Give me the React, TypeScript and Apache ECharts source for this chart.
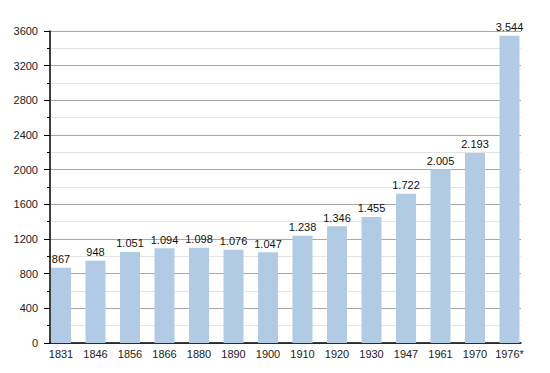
import React, { useEffect, useRef } from "react";
import * as echarts from "echarts";

const years = ["1831", "1846", "1856", "1866", "1880", "1890", "1900", "1910", "1920", "1930", "1947", "1961", "1970", "1976*"];
const population = [867, 948, 1051, 1094, 1098, 1076, 1047, 1238, 1346, 1455, 1722, 2005, 2193, 3544];
const yMin = 0;
const yMax = 3600;
const yStep = 400;

const fmt = (v: number) => {
  const s = String(v);
  return s.length > 3 ? s.slice(0, s.length - 3) + "." + s.slice(s.length - 3) : s;
};

export default function App() {
  const ref = useRef<HTMLDivElement>(null);
  useEffect(() => {
    if (!ref.current) return;
    const chart = echarts.init(ref.current, undefined, { renderer: "svg" });
    const font = "Liberation Sans, Arial, Helvetica, sans-serif";
    chart.setOption({
      animation: false,
      backgroundColor: "#ffffff",
      textStyle: { fontFamily: font },
      grid: [
        { left: 50, right: 29, top: 31, bottom: 30, containLabel: false },
        { left: 43.75, right: 23.25, top: 31, bottom: 30, containLabel: false },
      ],
      xAxis: [
        {
          gridIndex: 0,
          type: "value",
          min: 0,
          max: 1,
          axisLine: { show: true, onZero: false, lineStyle: { color: "#000", width: 1.5 } },
          axisTick: { show: false },
          axisLabel: { show: false },
          splitLine: { show: false },
        },
        {
          gridIndex: 1,
          type: "category",
          data: years,
          axisLine: { show: false },
          axisTick: { show: false },
          axisLabel: { color: "#222", fontSize: 11, margin: 5, interval: 0, fontFamily: font },
          splitLine: { show: false },
        },
      ],
      yAxis: [
        {
          gridIndex: 0,
          type: "value",
          min: yMin,
          max: yMax,
          interval: yStep,
          axisLine: { show: true, lineStyle: { color: "#000", width: 1.5 } },
          axisTick: { show: true, length: 6, lineStyle: { color: "#000" } },
          minorTick: { show: true, splitNumber: 2, length: 3, lineStyle: { color: "#000" } },
          axisLabel: { color: "#222", fontSize: 11, margin: 12, fontFamily: font, formatter: (v: number) => String(v) },
          splitLine: { show: true, lineStyle: { color: "#a8a8a8", width: 1 } },
          minorSplitLine: { show: true, lineStyle: { color: "#e4e4e4", width: 1 } },
        },
        {
          gridIndex: 1,
          type: "value",
          min: yMin,
          max: yMax,
          interval: yStep,
          show: false,
          splitLine: { show: false },
        },
      ],
      series: [
        {
          type: "bar",
          xAxisIndex: 1,
          yAxisIndex: 1,
          data: population,
          barWidth: 20,
          itemStyle: { color: "#b1cbe5" },
          label: {
            show: true,
            position: "top",
            distance: 3,
            color: "#111",
            fontSize: 11,
            fontFamily: font,
            formatter: (p: any) => fmt(p.value),
          },
        },
      ],
    });
    return () => chart.dispose();
  }, []);
  return (
    <div
      ref={ref}
      style={{ position: "fixed", left: 0, top: 0, width: 550, height: 373, background: "#fff" }}
    />
  );
}
